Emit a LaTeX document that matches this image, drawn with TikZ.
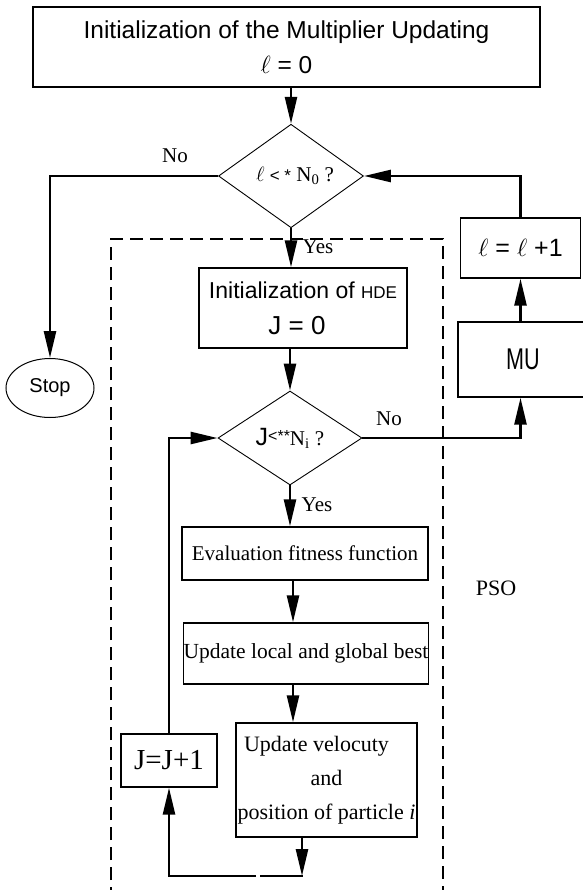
\documentclass[tikz,border=0pt]{standalone}
\usepackage{fontspec}
\setmainfont{Liberation Serif}
\newfontfamily\sansf{Liberation Sans}
\newfontfamily\narrowf[FakeStretch=0.72]{Liberation Sans}
\usetikzlibrary{arrows.meta,shapes.geometric}
\newcommand\myfs[2]{\fontsize{#1}{#2}\selectfont}
\begin{document}
\begin{tikzpicture}[x=1pt,y=-1pt,
  box/.style={draw, line width=1.4pt, inner sep=0pt, align=center},
  dia/.style={draw, diamond, line width=0.9pt, inner sep=0pt},
  conn/.style={line width=2.6pt},
  arr/.style={conn, -{Triangle[length=27pt,width=12pt]}},
  lbl/.style={inner sep=0pt, font=\myfs{21}{21}},
  dashbox/.style={line width=1.3pt, dash pattern=on 13pt off 7pt}
]
\useasboundingbox (0,0) rectangle (582,890);
\fill[white] (0,0) rectangle (582,890);

% dashed PSO region
\draw[dashbox] (111,900) -- (111,239) -- (443,239) -- (443,900);

% nodes
\node[box, minimum width=507pt, minimum height=80pt, font=\sansf\myfs{24.5}{35}] (init) at (286.5,47)
  {Initialization of the Multiplier Updating\\$\ell$ = 0};
\node[dia, minimum width=145pt, minimum height=94pt, font=\myfs{21}{21}] (d1) at (291,176)
  {\hspace*{8pt}$\ell$ {\sansf\myfs{17}{17}< *} N\textsubscript{0} ?};
\node[box, minimum width=120pt, minimum height=60pt, font=\sansf\myfs{25}{25}] (lp1) at (520.5,248)
  {$\ell$ = $\ell$ +1};
\node[box, minimum width=130pt, minimum height=75pt, font=\narrowf\myfs{30}{30}] (mu) at (523,359.5) {MU};
\node[draw, ellipse, line width=1pt, minimum width=88pt, minimum height=59pt, inner sep=0pt,
  font=\sansf\myfs{20}{20}] (stop) at (50,388) {Stop};
\node[box, minimum width=208pt, minimum height=80pt, font=\sansf\myfs{23}{36}] (hde) at (303,308)
  {Initialization of {\myfs{17}{17}HDE}\\{\myfs{26}{36}J = 0}\hspace*{12pt}};
\node[dia, minimum width=144pt, minimum height=94pt, font=\myfs{21}{21}] (d2) at (290,438)
  {{\sansf\myfs{25}{25}J}\raisebox{4pt}{\sansf\myfs{16}{16}<**}N\textsubscript{i} ?};
\node[box, minimum width=246pt, minimum height=53pt, font=\myfs{21}{21}] (eval) at (305,553.5)
  {Evaluation fitness function};
\node[box, minimum width=244pt, minimum height=61pt, font=\myfs{21.5}{21.5}] (upd) at (306,653.5)
  {Update local and global best};
\node[box, minimum width=181pt, minimum height=114pt, font=\myfs{22}{34}] (vel) at (326.5,780)
  {Update velocuty\hspace*{20pt}\\and\hspace*{33pt}\\position of particle \textit{i}};
\node[box, minimum width=96pt, minimum height=53pt, font=\myfs{29}{29}] (jp1) at (169,760.5) {J=J+1};

% labels
\node[lbl] (no1) at (175,156) {No};
\node[lbl] (yes1) at (318,247) {Yes};
\node[lbl] (no2) at (389,419) {No};
\node[lbl] (yes2) at (317,505) {Yes};
\node[lbl, font=\myfs{22}{22}] (pso) at (496,588) {PSO};

% connectors
\coordinate (ax) at (293,0);
\coordinate (b1) at (302,876);
\coordinate (gr) at (261,876);
\coordinate (gl) at (256,876);
\draw[arr] (init.south -| d1.north) -- (d1.north);
\draw[arr] (d1.west) -| (stop.north);
\draw[arr] (lp1.north) |- (d1.east);
\draw[arr] (d1.south) -- (d1.south |- hde.north);
\draw[arr] (hde.south -| d2.north) -- (d2.north);
\draw[arr] (d2.east) -| (mu.south -| lp1.south);
\draw[arr] (mu.north -| lp1.south) -- (lp1.south);
\draw[arr] (d2.south) -- (d2.south |- eval.north);
\draw[arr] (eval.south -| ax) -- (upd.north -| ax);
\draw[arr] (upd.south -| ax) -- (vel.north -| ax);
\draw[arr] (vel.south -| b1) -- (b1);
\draw[conn, line cap=rect] (b1) -- (gr);
\draw[arr] (gl) -| (jp1.south);
\draw[arr] (jp1.north) |- (d2.west);
\end{tikzpicture}
\end{document}
